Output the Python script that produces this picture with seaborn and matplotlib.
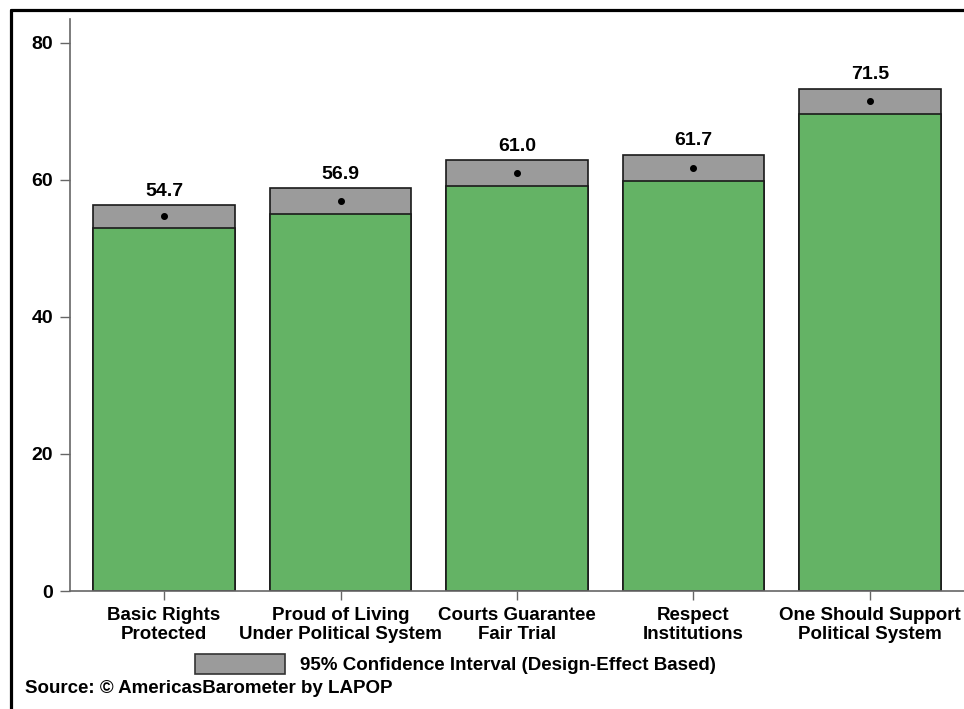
import numpy as np
import pandas as pd
import seaborn as sns
import matplotlib.pyplot as plt
from matplotlib import patches
from matplotlib.lines import Line2D

# Data
categories = [
    "Basic Rights\nProtected",
    "Proud of Living\nUnder Political System",
    "Courts Guarantee\nFair Trial",
    "Respect\nInstitutions",
    "One Should Support\nPolitical System",
]
means = [54.7, 56.9, 61.0, 61.7, 71.5]
ci_low = [53.0, 55.1, 59.1, 59.8, 69.7]
ci_high = [56.3, 58.8, 62.9, 63.7, 73.3]
y_ticks = [0, 20, 40, 60, 80]

GREEN = "#64B365"
GRAY = "#9B9B9B"
EDGE = "#1a1a1a"
AXIS = "#666666"

sns.set_theme(style="white")
plt.rcParams["font.family"] = ["Liberation Sans", "DejaVu Sans"]
plt.rcParams["font.weight"] = "bold"
plt.rcParams["text.color"] = "black"
plt.rcParams["xtick.labelcolor"] = "black"
plt.rcParams["ytick.labelcolor"] = "black"

df = pd.DataFrame({"cat": categories, "mean": means, "lo": ci_low, "hi": ci_high})

W, H = 964, 709
fig = plt.figure(figsize=(W / 100, H / 100), dpi=100)
ax = fig.add_axes([70 / W, 1 - 591 / H, (964 - 70) / W, (591 - 19) / H])

# upper CI bar in gray, green bar up to the lower CI drawn over it
sns.barplot(data=df, x="cat", y="hi", color=GRAY, saturation=1, width=0.8,
            edgecolor=EDGE, linewidth=1.2, ax=ax)
sns.barplot(data=df, x="cat", y="lo", color=GREEN, saturation=1, width=0.8,
            edgecolor=EDGE, linewidth=1.2, ax=ax)
sns.pointplot(data=df, x="cat", y="mean", color="black", linestyle="none",
              markers="o", markersize=3, errorbar=None, ax=ax)

ax.bar_label(ax.containers[0], labels=[f"{m:.1f}" for m in means],
             padding=4, fontsize=14, fontweight="bold", color="black")

ax.set_xlim(-0.533, 4.533)
ax.set_ylim(0, 83.5)
ax.set_yticks(y_ticks)
ax.set_xlabel("")
ax.set_ylabel("")
ax.set_xticks(range(len(categories)))
ax.set_xticklabels(categories, fontsize=13.5, fontweight="bold", linespacing=1.15)
ax.tick_params(axis="y", labelsize=14, length=7, width=1, color=AXIS, pad=5,
               direction="out", left=True)
ax.tick_params(axis="x", length=6.5, width=1, color=AXIS, pad=5,
               direction="out", bottom=True)
for lab in ax.get_yticklabels():
    lab.set_fontweight("bold")

sns.despine(ax=ax, top=True, right=True)
for side in ["left", "bottom"]:
    ax.spines[side].set_color(AXIS)
    ax.spines[side].set_linewidth(1.2)

# legend for the confidence interval box
ci_patch = patches.Patch(facecolor=GRAY, edgecolor="#333333", linewidth=1.2,
                         label="95% Confidence Interval (Design-Effect Based)")
fig.legend(handles=[ci_patch], loc="center left",
           bbox_to_anchor=(195 / W, 1 - 664 / H), frameon=False,
           handlelength=4.8, handleheight=1.3, handletextpad=0.8,
           borderpad=0, borderaxespad=0, prop={"size": 13.5, "weight": "bold"})

fig.text(25 / W, 1 - 693 / H, "Source: \u00a9 AmericasBarometer by LAPOP",
         fontsize=13.5, fontweight="bold", ha="left", va="baseline")

# outer frame (left and top visible)
fig.add_artist(Line2D([11 / W, 11 / W], [0, 1 - 10 / H], transform=fig.transFigure,
                      color="black", linewidth=2.3))
fig.add_artist(Line2D([11 / W, 1], [1 - 10 / H, 1 - 10 / H], transform=fig.transFigure,
                      color="black", linewidth=2.3))

fig.savefig("out.png", dpi=100)
plt.close(fig)
